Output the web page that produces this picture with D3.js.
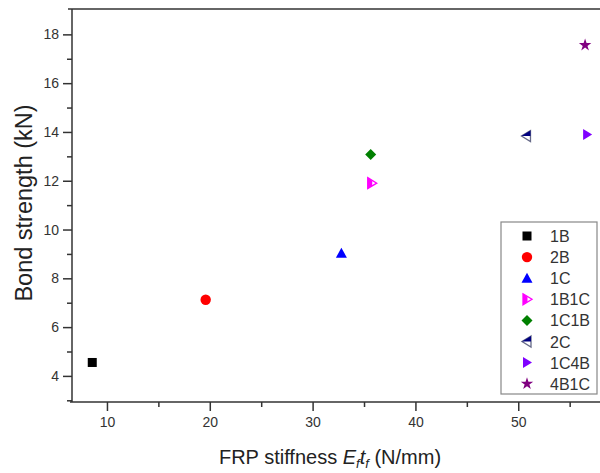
<!DOCTYPE html>
<html lang="en">
    <head>
        <meta charset="utf-8">
        <title>Bond strength vs FRP stiffness</title>
        <script src="https://d3js.org/d3.v7.min.js"></script>
        <style>
            body { margin: 0; background: #fff; }
            text { font-family: Arial, "Liberation Sans", sans-serif; }
        </style>
    </head>
    <body>
        <script type="text/javascript">

            // data
            var series    = ["1B", "2B", "1C", "1B1C", "1C1B", "2C", "1C4B", "4B1C"];
            var stiffness = [8.57, 19.6, 32.8, 35.75, 35.65, 50.8, 56.7, 56.5];
            var strength  = [4.55, 7.12, 9.03, 11.9, 13.08, 13.83, 13.9, 17.56];
            var colors    = ["#000000", "#ff0000", "#0000ff", "#ff00ff", "#008000", "#000080", "#8000ff", "#800080"];
            var shapes    = ["square", "circle", "up", "rightHalf", "diamond", "leftHalf", "right", "star"];
            var xTicks    = [10, 20, 30, 40, 50];
            var yTicks    = [4, 6, 8, 10, 12, 14, 16, 18];

            var width = 600, height = 473;
            var margin = { left: 72, top: 9, right: 0, bottom: 71 };

            var svg = d3.select("body").append("svg")
                .attr("width", width)
                .attr("height", height);

            var xScale = d3.scaleLinear()
                .domain([6.6, 57.95])
                .range([margin.left, width - margin.right]);

            var yScale = d3.scaleLinear()
                .domain([2.93, 19.04])
                .range([height - margin.bottom, margin.top]);

            var axisColor = "#333";

            // frame: top line, left and bottom axes
            svg.append("line")
                .attr("x1", margin.left - 4).attr("x2", width)
                .attr("y1", margin.top).attr("y2", margin.top)
                .attr("stroke", axisColor).attr("stroke-width", 1.5);

            var xAxis = d3.axisBottom(xScale)
                .tickValues(xTicks)
                .tickSize(9)
                .tickPadding(6)
                .tickFormat(d3.format("d"));
            var xMinor = d3.axisBottom(xScale)
                .tickValues(d3.range(15, 60, 10))
                .tickSize(5)
                .tickFormat("");

            var yAxis = d3.axisLeft(yScale)
                .tickValues(yTicks)
                .tickSize(9)
                .tickPadding(4)
                .tickFormat(d3.format("d"));
            var yMinor = d3.axisLeft(yScale)
                .tickValues(d3.range(3, 19, 2))
                .tickSize(5)
                .tickFormat("");

            function styleAxis(g) {
                g.select(".domain").remove();
                g.selectAll("line").attr("stroke", axisColor).attr("stroke-width", 1.5);
                g.selectAll("text")
                    .attr("fill", "#333")
                    .style("font-size", "14px")
                    .style("font-family", "Arial, 'Liberation Sans', sans-serif");
            }

            svg.append("g")
                .attr("transform", `translate(0,${height - margin.bottom})`)
                .call(xAxis).call(styleAxis);
            svg.append("g")
                .attr("transform", `translate(0,${height - margin.bottom})`)
                .call(xMinor).call(styleAxis);

            svg.append("g")
                .attr("transform", `translate(${margin.left},0)`)
                .call(yAxis).call(styleAxis);
            svg.append("g")
                .attr("transform", `translate(${margin.left},0)`)
                .call(yMinor).call(styleAxis);

            svg.append("line")
                .attr("x1", margin.left - 2).attr("x2", width)
                .attr("y1", height - margin.bottom).attr("y2", height - margin.bottom)
                .attr("stroke", axisColor).attr("stroke-width", 1.5);
            svg.append("line")
                .attr("x1", margin.left).attr("x2", margin.left)
                .attr("y1", margin.top).attr("y2", height - margin.bottom)
                .attr("stroke", axisColor).attr("stroke-width", 1.5);

            // axis titles
            svg.append("text")
                .attr("transform", "translate(32,203) rotate(-90)")
                .attr("text-anchor", "middle")
                .attr("fill", "#222")
                .style("font-size", "23.5px")
                .text("Bond strength (kN)");

            var xt = svg.append("text")
                .attr("x", 330)
                .attr("y", 464)
                .attr("text-anchor", "middle")
                .attr("fill", "#222")
                .style("font-size", "20px");
            xt.append("tspan").text("FRP stiffness ");
            xt.append("tspan").attr("font-style", "italic").text("E");
            xt.append("tspan").attr("font-style", "italic").attr("font-size", "13px").attr("dy", 4).text("f");
            xt.append("tspan").attr("font-style", "italic").attr("dy", -4).text("t");
            xt.append("tspan").attr("font-style", "italic").attr("font-size", "13px").attr("dy", 4).text("f");
            xt.append("tspan").attr("dy", -4).text(" (N/mm)");

            // marker drawing
            var a = 5, h = 5.5;
            function poly(pts) { return "M" + pts.map(p => p.join(",")).join("L") + "Z"; }

            function drawMarker(g, shape, color) {
                if (shape === "square") {
                    g.append("rect").attr("x", -4.5).attr("y", -4.5).attr("width", 9).attr("height", 9).attr("fill", color);
                } else if (shape === "circle") {
                    g.append("circle").attr("r", 5.2).attr("fill", color);
                } else if (shape === "up") {
                    g.append("path").attr("d", poly([[0, -h], [a + 0.5, h - 1], [-a - 0.5, h - 1]])).attr("fill", color);
                } else if (shape === "right") {
                    g.append("path").attr("d", poly([[-a + 1, -h], [a, 0], [-a + 1, h]])).attr("fill", color);
                } else if (shape === "diamond") {
                    g.append("path").attr("d", poly([[0, -5.5], [5.5, 0], [0, 5.5], [-5.5, 0]])).attr("fill", color);
                } else if (shape === "star") {
                    g.append("path").attr("d", d3.symbol(d3.symbolStar, 48)()).attr("fill", color);
                } else if (shape === "rightHalf") {
                    g.append("path").attr("d", poly([[-a + 1, -h], [a, 0], [-a + 1, h]]))
                        .attr("fill", "#fff").attr("stroke", color).attr("stroke-width", 1.3);
                    g.append("path").attr("d", poly([[-a + 1, -h], [0.5, -h * 0.45], [0.5, h * 0.45], [-a + 1, h]]))
                        .attr("fill", color);
                } else if (shape === "leftHalf") {
                    g.append("path").attr("d", poly([[a - 1, -h], [-a, 0], [a - 1, h]]))
                        .attr("fill", "#fff").attr("stroke", "#666a88").attr("stroke-width", 1.3);
                    g.append("path").attr("d", poly([[a - 1, -h], [-a, 0], [a - 1, 0]]))
                        .attr("fill", color);
                }
            }

            var points = series.map((s, i) => ({ name: s, x: stiffness[i], y: strength[i], color: colors[i], shape: shapes[i] }));

            svg.append("g").selectAll("g")
                .data(points)
                .enter().append("g")
                .attr("transform", d => `translate(${xScale(d.x)},${yScale(d.y)})`)
                .each(function(d) { drawMarker(d3.select(this), d.shape, d.color); });

            // legend
            var legend = svg.append("g").attr("transform", "translate(501,222)");
            legend.append("rect")
                .attr("width", 96).attr("height", 172)
                .attr("fill", "#fff")
                .attr("stroke", "#888").attr("stroke-width", 1.2);

            var rows = legend.selectAll("g.row")
                .data(points)
                .enter().append("g")
                .attr("class", "row")
                .attr("transform", (d, i) => `translate(26,${14 + i * 21.1})`);
            rows.each(function(d) { drawMarker(d3.select(this), d.shape, d.color); });
            rows.append("text")
                .attr("x", 23)
                .attr("y", 6)
                .attr("fill", "#333")
                .style("font-size", "16px")
                .text(d => d.name);

        </script>
    </body>
</html>
